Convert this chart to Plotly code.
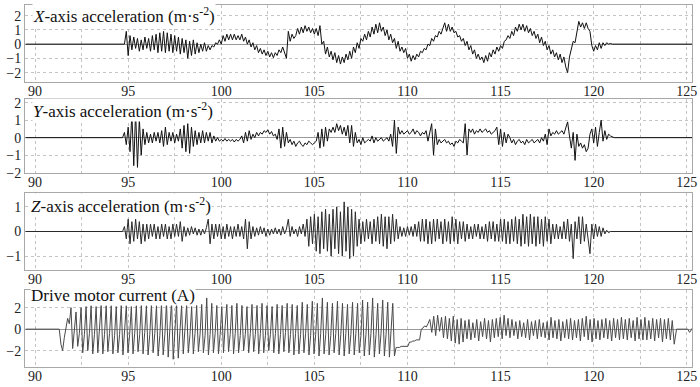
import numpy as np
import plotly.graph_objects as go

# ---------------- data ----------------
TIME_TICKS = [90, 95, 100, 105, 110, 115, 120, 125]

# X-axis acceleration, active part sampled every 0.1 s from 94.8 s
X_T0, X_DT = 94.8, 0.1
X_VALS = [0.0, 0.9,
          -0.8, 0.6, -0.4, 0.5, -0.3, 0.4, -0.5, 0.3, -0.4, 0.5,
          -0.3, 0.4, -0.5, 0.6, -0.4, 0.7, -0.6, 0.8, -0.5, 0.9,
          -0.6, 0.8, -0.5, 0.7, -0.6, 0.6, -0.5, 0.5, -0.7, 0.4,
          -0.6, 0.3, -1.0, 0.2, -0.8, 0.3, -0.7, 0.1, -0.6, 0.0,
          -0.5, 0.1, -0.5, -0.1, -0.4, -0.1, -0.2, 0.1, 0.0, 0.3,
          0.0, 0.6, 0.2, 0.7, 0.3, 0.7, 0.3, 0.7, 0.3, 0.6,
          0.3, 0.7, 0.2, 0.5, 0.0, 0.3, -0.2, 0.1, -0.4, -0.1,
          -0.6, -0.3, -0.7, -0.4, -0.8, -0.5, -0.9, -0.6, -0.95, -0.6,
          -0.8, -0.4, -0.6, -0.2, -0.7, -1.0, 0.9, 0.2, 0.7, 0.4,
          0.6, 1.1, 0.7, 1.2, 0.8, 1.3, 0.9, 1.2, 0.8, 1.1,
          0.7, 1.1, 0.6, 1.3, 0.0, 0.2, -0.7, -0.2, -0.9, -0.5,
          -1.1, -0.6, -1.3, -0.8, -1.4, -0.9, -1.3, -0.7, -1.1, -0.5,
          -1.0, -0.2, -0.6, 0.1, -0.3, 0.4, 0.2, 0.7, 0.3, 0.9,
          0.5, 1.2, 0.7, 1.4, 0.8, 1.5, 0.9, 1.2, 0.6, 1.0,
          0.3, 0.7, 0.1, 0.4, -0.3, 0.2, -0.5, -0.2, -0.6, -0.3,
          -1.0, -0.7, -1.2, -0.8, -1.1, -0.7, -0.9, -0.5, -0.6, -0.3,
          -0.4, 0.0, -0.1, 0.4, 0.2, 0.6, 0.5, 0.9, 0.7, 1.2,
          1.5, 0.9, 1.4, 0.9, 1.2, 0.8, 0.9, 0.5, 0.6, 0.2,
          0.4, -0.1, 0.2, -0.4, -0.1, -0.7, -0.4, -1.0, -0.7, -1.1,
          -0.9, -1.3, -0.8, -1.2, -0.6, -0.9, -0.4, -0.7, -0.2, -0.5,
          -0.1, -0.3, 0.2, 0.3, 0.6, 0.4, 0.9, 0.6, 1.2, 0.9,
          1.4, 1.0, 1.4, 0.9, 1.3, 0.8, 1.1, 0.6, 0.9, 0.4,
          0.7, 0.1, 0.5, -0.1, 0.2, -0.4, -0.1, -0.7, -0.4, -0.9,
          -0.6, -1.1, -0.7, -1.3, -0.9, -1.6, -2.0, -0.9, -0.4, 0.2,
          0.1, 0.9, 1.6, 1.2, 1.5, 1.1, 1.5, 1.1, 0.9, -0.1,
          -0.5, -0.1, -0.4, 0.1, -0.3, 0.1, -0.1, 0.1, 0.0, 0.05,
          0.0]

# Y-axis acceleration, every 0.1 s from 94.8 s
Y_T0, Y_DT = 94.8, 0.1
Y_VALS = [0.3, -0.4,
          0.6, -0.8, 1.4, -1.6, 1.5, -1.7, 1.1, -1.0, 0.5, -0.4,
          0.3, -0.3, 0.2, -0.3, 0.3, -0.2, 0.3, -0.3, 0.4, -0.5,
          0.6, -0.4, 0.3, -0.2, 0.3, -0.3, 0.2, -0.2, 0.5, -0.6,
          0.7, -0.8, 0.8, -0.9, 0.6, -0.5, 0.4, -0.4, 0.3, -0.3,
          0.4, -0.3, 0.3, -0.2, 0.3, -0.3, 0.1, -0.2, 0.0, -0.2,
          -0.1, -0.2, -0.05, -0.2, -0.1, -0.2, -0.1, -0.25, -0.1, -0.2,
          -0.1, 0.1, -0.3, 0.3, -0.2, 0.4, -0.1, 0.2, 0.0, 0.3,
          0.1, 0.3, 0.2, 0.4, 0.3, 0.45, 0.2, 0.35, 0.1, 0.2,
          -0.1, 0.5, -0.6, 0.6, -0.5, 0.3, -0.3, -0.1, -0.4, -0.2,
          -0.5, -0.3, -0.2, -0.4, -0.5, -0.3, -0.4, -0.2, -0.3, -0.4,
          -0.3, -0.2, 0.3, -0.6, 0.5, -0.5, 0.6, -0.2, 0.5, 0.3,
          0.6, 0.3, 0.8, 0.4, 0.7, 0.2, 0.6, 0.1, 0.7, -0.3,
          0.7, -0.5, 0.3, -0.3, -0.1, -0.4, 0.0, -0.3, -0.2, -0.1,
          -0.2, 0.1, -0.3, 0.0, -0.2, -0.1, 0.0, -0.2, -0.1, 0.0,
          -0.2, 0.2, -0.5, 1.0, -0.9, 0.6, 0.2, 0.4, 0.2, 0.3,
          0.4, 0.2, 0.3, 0.5, 0.2, 0.4, 0.3, 0.1, 0.3, 0.2,
          0.4, -0.2, 0.3, 0.8, -1.0, 0.5, -0.4, -0.1, -0.3, -0.2,
          -0.1, -0.3, -0.2, -0.4, -0.3, -0.5, -0.2, -0.3, -0.1, -0.2,
          -0.3, 0.8, -1.0, 0.5, 0.3, 0.5, 0.2, 0.4, 0.3, 0.5,
          0.3, 0.4, 0.5, 0.3, 0.4, 0.2, 0.3, 0.4, 0.6, -0.4,
          0.5, -0.5, 0.3, -0.3, 0.2, 0.0, -0.3, -0.1, -0.4, -0.2,
          -0.1, -0.3, -0.2, -0.4, -0.1, -0.3, -0.2, -0.1, -0.3, -0.2,
          -0.1, -0.3, 0.0, -0.2, 0.2, -0.4, 0.5, 0.1, 0.3, 0.2,
          0.4, 0.2, 0.3, 0.4, 0.2, 0.5, 0.9, 0.1, -0.6, 0.3,
          -1.3, 0.2, -0.5, -0.3, -0.6, -0.4, -0.8, -0.6, 0.2, 0.5,
          -0.3, 0.6, -0.5, 0.3, 1.0, -0.2, 0.4, -0.1, 0.2, 0.1,
          0.05, 0.0]

# Z-axis acceleration, every 0.1 s from 94.8 s
Z_T0, Z_DT = 94.8, 0.1
Z_VALS = [0.2, -0.3,
          0.5, -0.5, 0.4, -0.4, 0.5, -0.3, 0.4, -0.5, 0.3, -0.4,
          0.3, -0.3, 0.3, -0.2, 0.3, -0.3, 0.2, -0.3, 0.3, -0.2,
          0.3, -0.3, 0.2, -0.3, 0.3, -0.2, 0.3, -0.2, 0.4, -0.4,
          0.2, -0.2, 0.15, -0.15, 0.2, -0.1, 0.15, -0.15, 0.1, -0.15,
          0.1, -0.1, 0.15, 0.5, -0.5, 0.3, -0.3, 0.3, -0.2, 0.3,
          -0.3, 0.2, -0.3, 0.3, -0.2, 0.2, -0.3, 0.2, -0.2, 0.3,
          -0.2, 0.2, -0.3, 0.5, -0.7, 0.4, -0.3, 0.2, -0.2, 0.15,
          -0.15, 0.2, -0.1, 0.15, -0.2, 0.1, -0.15, 0.1, -0.1, 0.15,
          -0.1, 0.1, -0.15, 0.2, -0.1, 0.1, 0.5, -0.2, 0.2, -0.1,
          0.1, -0.2, 0.2, -0.1, 0.3, -0.2, 0.5, -0.6, 0.6, -0.5,
          0.7, -0.8, 0.6, -0.9, 0.8, -0.7, 0.9, -0.8, 0.7, -1.0,
          0.9, -0.7, 1.0, -0.9, 0.8, -1.0, 1.2, -0.8, 1.0, -1.1,
          0.9, -1.0, 0.8, -0.6, 0.5, -0.5, 0.4, -0.4, 0.5, -0.3,
          0.4, -0.5, 0.5, -0.4, 0.6, -0.5, 0.7, -0.6, 0.6, -0.7,
          0.6, -0.5, 0.7, -0.4, 0.5, -0.3, 0.2, -0.2, 0.15, -0.2,
          0.2, -0.15, 0.2, -0.2, 0.3, -0.2, 0.4, -0.4, 0.5, -0.4,
          0.5, -0.5, 0.4, -0.5, 0.5, -0.4, 0.5, -0.3, 0.4, -0.5,
          0.5, -0.4, 0.4, -0.5, 0.6, -0.4, 0.5, -0.5, 0.4, -0.3,
          0.4, -0.4, 0.3, -0.3, 0.2, -0.3, 0.3, -0.2, 0.3, -0.3,
          0.2, -0.3, 0.3, -0.4, 0.4, -0.3, 0.4, -0.4, 0.3, -0.4,
          0.5, -0.4, 0.5, -0.5, 0.4, -0.5, 0.5, -0.4, 0.6, -0.5,
          0.5, -0.6, 0.7, -0.5, 0.6, -0.6, 0.7, -0.5, 0.6, -0.6,
          0.6, -0.5, 0.5, -0.6, 0.6, -0.4, 0.5, -0.5, 0.3, -0.3,
          0.3, -0.3, 0.2, -0.3, 0.4, -0.3, 0.5, -0.4, 0.3, -1.1,
          0.4, -0.3, 0.6, -0.5, 0.6, -0.4, 0.3, -0.3, -0.9, 0.3,
          -0.3, 0.3, -0.2, 0.2, -0.2, 0.15, -0.1, 0.05, -0.05, 0.0,
          0.0]

# resting (flat) parts of the three acceleration records
ACC_PRE_T, ACC_PRE_V = [89.5, 94.7], [0.0, 0.0]
ACC_POST_T, ACC_POST_V = [121.2, 125.3], [0.0, 0.0]

# Drive motor current: start-up + first run, every 0.09 s from 91.3 s
I_A_T0, I_A_DT = 91.3, 0.09
I_A_VALS = [0.0, -1.4, -2.0, -0.8, 0.3, 1.0, 0.5,
            2.0, -1.8, -0.3, 1.6, -1.6, -0.4, 2.0, -2.2, -0.5,
            2.1, -2.0, -0.4, 2.2, -2.3, -0.5, 2.1, -2.2, 0.3,
            2.3, -2.3, -0.5, 2.2, -2.1, -0.4, 2.2, -2.3, -0.6,
            2.1, -2.2, -0.5, 2.3, -2.4, 0.4, 2.2, -2.2, -0.5,
            2.1, -2.3, -0.4, 2.2, -2.1, -0.5, 2.4, -2.3, -0.3,
            2.2, -2.4, -0.5, 2.3, -2.2, -0.4, 2.2, -2.5, -0.6,
            2.4, -2.4, -0.5, 2.5, -2.6, -0.4, 2.6, -2.8, -0.6,
            2.4, -2.7, -0.5, 2.2, -2.3, 0.4, 2.3, -2.2, -0.5,
            2.1, -2.3, -0.4, 2.2, -2.1, -0.5, 2.3, -2.2, -0.6,
            2.9, -2.4, -0.5, 2.4, -2.2, -0.4, 2.2, -2.3, -0.5,
            2.1, -2.2, 0.3, 2.3, -2.1, -0.5, 2.2, -2.3, -0.4,
            2.4, -2.2, -0.6, 2.2, -2.0, -0.5, 2.1, -2.2, -0.4,
            2.3, -2.1, -0.5, 2.2, -2.3, -0.4, 2.4, -2.2, -0.6,
            2.2, -2.0, -0.5, 2.1, -2.2, -0.4, 2.3, -2.3, -0.5,
            2.2, -2.1, -0.3, 2.4, -2.2, -0.5, 2.3, -2.4, -0.4,
            2.2, -2.3, -0.5, 2.5, -2.2, -0.4, 2.3, -2.4, -0.6,
            2.6, -2.3, -0.5, 2.4, -2.5, -0.4, 2.9, -2.3, -0.5,
            2.5, -2.4, -0.6, 2.4, -2.2, -0.4, 2.6, -2.4, -0.5,
            2.4, -2.5, -0.4, 2.3, -2.3, -0.5, 2.5, -2.4, -0.4,
            2.4, -2.2, -0.6, 2.7, -2.5, -0.5, 2.5, -2.4, -0.4,
            2.9, -2.6, -0.5, 2.4, -2.3, -0.4, 2.7, -2.5, -0.5,
            2.5, -2.6, -0.4,
            2.4, -2.5, -1.7, -1.7, -1.7, -1.6, -1.6, -1.6, -1.6, -1.6,
            -1.2, -1.2, -1.1, -1.1, -1.0, -1.0, -1.0,
            0.0, 0.1, 0.3, 0.2, 0.5]

# Drive motor current: second run, every 0.105 s from 111.2 s
I_B_T0, I_B_DT = 111.2, 0.105
I_B_VALS = [0.9, -0.3, 1.2, -0.6, 1.3, -0.2, 1.1, -0.8, 1.2, -0.9,
            1.0, -1.1, 1.2, -1.3, 0.9, -1.4, 1.0, -1.2, 0.8, -0.9,
            0.9, -1.0, 0.6, -0.8, 0.9, -1.1, 0.7, -0.7, 1.0, -0.9,
            0.8, -1.2, 0.9, -0.8, 1.0, -0.7, 1.1, -0.9, 1.3, -0.6,
            1.0, -0.8, 0.9, -0.6, 0.7, -0.9, 0.8, -0.7, 0.6, -0.8,
            0.9, -1.0, 0.7, -0.6, 0.8, -0.9, 0.9, -0.7, 0.6, -0.8,
            0.7, -1.0, 1.1, -0.8, 0.8, -0.9, 0.9, -1.1, 0.7, -0.8,
            0.9, -0.9, 1.0, -1.0, 0.8, -0.8, 0.9, -1.1, 1.0, -0.7,
            1.2, -1.0, 0.9, -1.2, 1.0, -0.9, 0.8, -1.0, 0.9, -0.8,
            1.0, -0.9, 0.8, -1.1, 1.0, -0.8, 0.9, -1.0, 1.1, -0.9,
            0.9, -1.0, 1.0, -0.8, 0.8, -1.1, 1.1, -0.9, 0.9, -1.0,
            1.1, -1.0, 0.8, -0.9, 1.0, -1.1, 0.9, -0.8, 1.0, -1.2,
            0.9, -0.9, 1.0, -1.0, 0.8, -1.4]

I_PRE_T, I_PRE_V = [89.5, 91.2], [0.0, 0.0]
I_POST_T, I_POST_V = [124.45, 125.05, 125.15, 125.3], [0.0, 0.0, -0.3, 0.1]

PANEL_TITLES = ["<i>X</i>-axis acceleration (m·s<sup>-2</sup>)",
                "<i>Y</i>-axis acceleration (m·s<sup>-2</sup>)",
                "<i>Z</i>-axis acceleration (m·s<sup>-2</sup>)",
                "Drive motor current (A)"]
Y_TICKS = [[-2, -1, 0, 1, 2], [-2, -1, 0, 1, 2], [-1, 0, 1], [-2, 0, 2]]
Y_RANGES = [[-2.66, 2.75], [-2.02, 2.21], [-1.56, 1.56], [-3.52, 3.64]]


def series(pre_t, pre_v, segs, post_t, post_v):
    ts, vs = [np.asarray(pre_t, float)], [np.asarray(pre_v, float)]
    for t0, dt, vals in segs:
        ts.append(t0 + dt * np.arange(len(vals)))
        vs.append(np.asarray(vals, float))
    ts.append(np.asarray(post_t, float))
    vs.append(np.asarray(post_v, float))
    return np.concatenate(ts), np.concatenate(vs)


traces = [
    series(ACC_PRE_T, ACC_PRE_V, [(X_T0, X_DT, X_VALS)], ACC_POST_T, ACC_POST_V),
    series(ACC_PRE_T, ACC_PRE_V, [(Y_T0, Y_DT, Y_VALS)], ACC_POST_T, ACC_POST_V),
    series(ACC_PRE_T, ACC_PRE_V, [(Z_T0, Z_DT, Z_VALS)], ACC_POST_T, ACC_POST_V),
    series(I_PRE_T, I_PRE_V, [(I_A_T0, I_A_DT, I_A_VALS), (I_B_T0, I_B_DT, I_B_VALS)],
           I_POST_T, I_POST_V),
]
LINE_COLORS = ["#111111", "#111111", "#2a2a2a", "#4a4a4a"]

# ---------------- layout ----------------
W, H = 700, 387
BOX_TOPS = [5, 99, 193, 290]
BOX_BOTS = [82, 173, 270, 367]
X_LEFT, X_RIGHT = 25, 692
TITLE_POS = [(32, 15), (32, 110), (30, 205), (30, 295)]
SERIF = "Liberation Serif"

fig = go.Figure()
for i, (t, v) in enumerate(traces):
    n = "" if i == 0 else str(i + 1)
    fig.add_trace(go.Scatter(x=t, y=v, mode="lines",
                             line=dict(color=LINE_COLORS[i], width=1),
                             xaxis="x" + n, yaxis="y" + n, showlegend=False))
    fig.layout["xaxis" + n] = dict(
        domain=[X_LEFT / W, X_RIGHT / W], anchor="y" + n, automargin=False,
        range=[89.46, 125.28], tickvals=TIME_TICKS, ticklabelstandoff=-4,
        showgrid=True, gridcolor="#c4c4c4", griddash="dot", gridwidth=1,
        minor=dict(dtick=2.5, tick0=90, showgrid=True, gridcolor="#c4c4c4",
                   griddash="dot", gridwidth=1),
        zeroline=False, showline=True, linecolor="#a8a8a8", linewidth=1,
        mirror=True, ticks="", ticklen=0,
        tickfont=dict(family=SERIF, size=14, color="#222"))
    fig.layout["yaxis" + n] = dict(
        domain=[1 - BOX_BOTS[i] / H, 1 - BOX_TOPS[i] / H], anchor="x" + n,
        automargin=False, range=Y_RANGES[i], tickvals=Y_TICKS[i],
        showgrid=True, gridcolor="#c4c4c4", griddash="dot", gridwidth=1,
        zeroline=True, zerolinecolor="#9a9a9a", zerolinewidth=1,
        showline=True, linecolor="#a8a8a8", linewidth=1, mirror=True,
        ticks="", ticklen=0,
        tickfont=dict(family=SERIF, size=14, color="#222"))
    fig.add_annotation(text=PANEL_TITLES[i], xref="paper", yref="paper",
                       x=TITLE_POS[i][0] / W, y=1 - TITLE_POS[i][1] / H,
                       xanchor="left", yanchor="middle", showarrow=False,
                       bgcolor="white", borderpad=0,
                       font=dict(family=SERIF, size=17, color="#111"))

fig.update_layout(width=W, height=H, margin=dict(l=0, r=0, t=0, b=0),
                  font=dict(family=SERIF, size=14, color="#222"),
                  paper_bgcolor="white", plot_bgcolor="white")
fig.write_html("out.html", config={"displayModeBar": False},
               post_script="document.body.style.margin='0';"
                           "document.body.style.overflow='hidden';")
